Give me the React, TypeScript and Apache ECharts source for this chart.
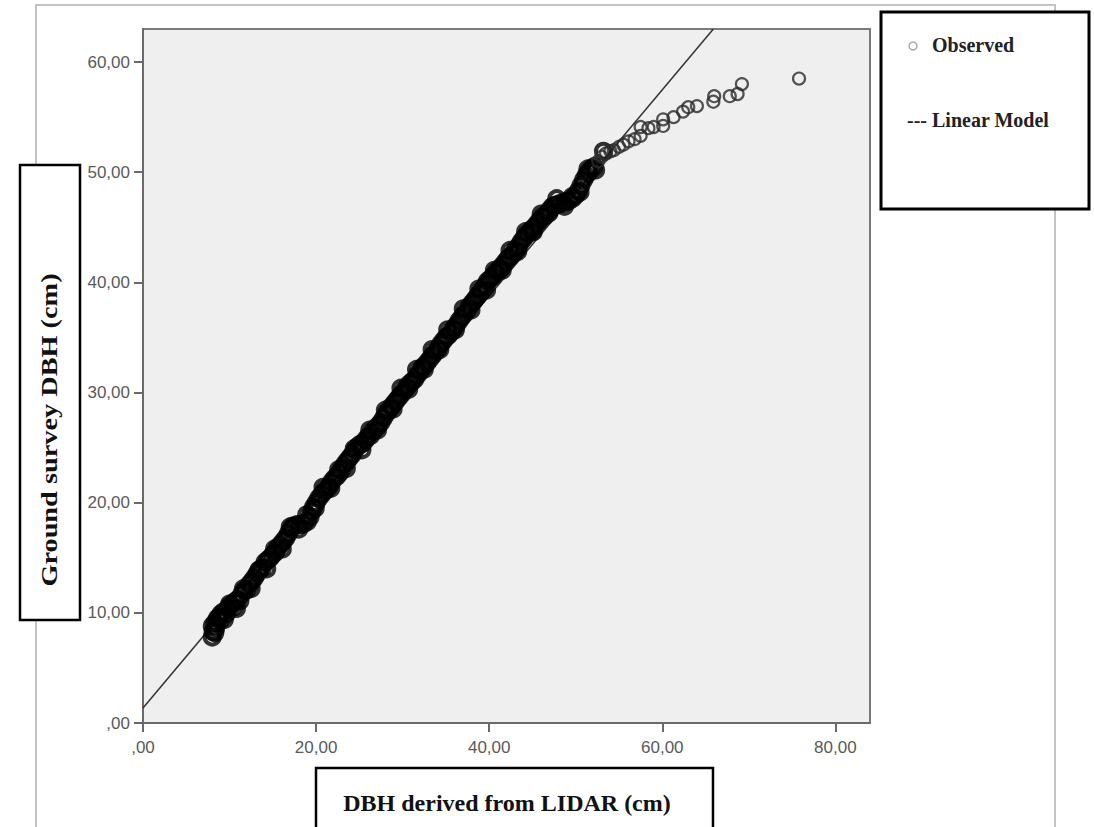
import React, { useEffect, useRef } from "react";
import * as echarts from "echarts";

// Observed points in the dense part of the curve
const denseX = [
  8.0, 8.1, 8.0, 8.3, 8.4, 8.6, 8.9, 9.0, 9.3, 9.6, 9.8, 10.1, 10.4, 10.6, 10.9, 11.2, 11.4, 11.7, 12.0, 12.3,
  12.6, 12.9, 13.2, 13.5, 13.8, 14.1, 14.4, 14.7, 15.0, 15.3, 15.6, 15.9, 16.2, 16.5, 16.8, 17.1, 17.4, 17.8, 18.2, 18.6,
  19.0, 19.3, 19.5, 19.7, 20.0, 20.3, 20.6, 20.9, 21.2, 21.5, 21.8, 22.1, 22.4, 22.7, 23.0, 23.3, 23.6, 23.9, 24.2, 24.5,
  24.8, 25.1, 25.4, 25.7, 26.0, 26.3, 26.6, 26.9, 27.2, 27.5, 27.8, 28.1, 28.4, 28.7, 29.0, 29.3, 29.6, 29.9, 30.2, 30.5,
  30.8, 31.1, 31.4, 31.7, 32.0, 32.3, 32.6, 32.9, 33.2, 33.5, 33.8, 34.1, 34.4, 34.7, 35.0, 35.3, 35.6, 35.9, 36.2, 36.5,
  36.8, 37.1, 37.4, 37.7, 38.0, 38.3, 38.6, 38.9, 39.2, 39.5, 39.8, 40.1, 40.4, 40.7, 41.0, 41.3, 41.6, 41.9, 42.2, 42.5,
  42.8, 43.1, 43.4, 43.7, 44.0, 44.3, 44.6, 44.9, 45.2, 45.5, 45.8, 46.1, 46.4, 46.7, 47.0, 47.3, 47.6, 48.0, 48.4, 48.8,
  49.2, 49.6, 50.0, 50.3, 50.6, 50.9, 51.2, 51.5, 51.8, 52.1,
  8.3, 8.8, 9.4, 10.0, 10.8, 11.6, 12.5, 13.4, 14.3, 15.2, 16.1, 17.0, 18.0, 18.9, 19.9, 20.8, 21.7, 22.6, 23.5, 24.4,
  25.3, 26.2, 27.1, 28.0, 28.9, 29.8, 30.7, 31.6, 32.5, 33.4, 34.3, 35.2, 36.1, 37.0, 37.9, 38.8, 39.7, 40.6, 41.5, 42.4,
  43.3, 44.2, 45.1, 46.0, 46.9, 47.8, 48.7, 49.6, 50.5, 51.4, 52.3, 53.2,
];

const denseY = [
  7.8, 8.3, 8.8, 9.1, 8.6, 9.5, 9.3, 9.9, 10.1, 9.9, 10.4, 10.7, 10.5, 11.0, 11.2, 11.1, 11.7, 12.0, 12.1, 12.6,
  12.9, 13.2, 13.6, 13.9, 14.1, 14.6, 14.8, 15.0, 15.3, 15.5, 15.9, 16.2, 16.5, 16.8, 17.2, 17.6, 17.9, 18.0, 18.0, 18.1,
  18.3, 18.7, 19.2, 19.6, 20.0, 20.4, 20.7, 21.0, 21.2, 21.5, 21.9, 22.2, 22.4, 22.7, 23.1, 23.5, 23.8, 24.1, 24.4, 24.8,
  25.1, 25.3, 25.4, 25.7, 26.0, 26.1, 26.5, 26.8, 27.0, 27.3, 27.7, 28.1, 28.4, 28.7, 29.0, 29.3, 29.6, 29.9, 30.2, 30.5,
  30.8, 31.0, 31.2, 31.6, 31.9, 32.3, 32.5, 32.8, 33.1, 33.4, 33.7, 34.0, 34.4, 34.7, 35.0, 35.2, 35.5, 35.8, 36.1, 36.5,
  36.8, 37.1, 37.4, 37.8, 38.1, 38.4, 38.7, 39.0, 39.3, 39.7, 40.1, 40.3, 40.5, 40.8, 41.1, 41.3, 41.6, 41.9, 42.2, 42.4,
  42.7, 43.0, 43.3, 43.7, 44.0, 44.3, 44.5, 44.8, 45.0, 45.3, 45.6, 45.9, 46.0, 46.3, 46.6, 46.9, 47.0, 47.1, 47.2, 47.3,
  47.4, 47.6, 47.9, 48.3, 48.8, 49.3, 49.7, 50.0, 50.3, 50.5,
  8.2, 9.6, 9.4, 10.8, 10.4, 12.2, 12.2, 13.9, 14.0, 15.8, 15.8, 17.8, 17.6, 18.9, 19.5, 21.4, 21.3, 23.0, 23.1, 24.9,
  24.8, 26.6, 26.6, 28.4, 28.5, 30.4, 30.3, 32.1, 32.1, 33.9, 33.9, 35.7, 35.7, 37.6, 37.5, 39.4, 39.3, 41.1, 41.1, 42.9,
  42.8, 44.6, 44.6, 46.2, 46.3, 47.6, 46.9, 47.8, 48.2, 50.3, 50.2, 51.9,
];

// Observed points in the sparser upper tail
const tailX = [
  52.6, 53.0, 53.5, 54.0, 54.4, 55.0, 55.5, 56.1, 56.8, 57.5, 57.5, 58.4, 59.0, 60.1, 60.1, 61.3, 62.4, 63.0, 64.0, 65.9,
  66.0, 67.8, 68.7, 69.2, 75.8,
];
const tailY = [
  51.0, 51.4, 51.7, 51.9, 52.0, 52.3, 52.5, 52.8, 53.0, 53.3, 54.1, 54.0, 54.1, 54.2, 54.8, 55.0, 55.5, 55.9, 56.0, 56.4,
  56.9, 56.9, 57.1, 58.0, 58.5,
];

const modelX = [0, 65.9];
const modelY = [1.36, 63];

const xTicks = [0, 20, 40, 60, 80];
const yTicks = [0, 10, 20, 30, 40, 50, 60];

const xTitle = "DBH derived from LIDAR (cm)";
const yTitle = "Ground survey DBH (cm)";
const legendObserved = "Observed";
const legendModel = "--- Linear Model";

const fmt = (v: number) => (v === 0 ? ",00" : v.toFixed(2).replace(".", ","));

export default function App() {
  const ref = useRef<HTMLDivElement>(null);
  useEffect(() => {
    if (!ref.current) return;
    const chart = echarts.init(ref.current, null, { renderer: "svg" });
    const serif = "'Liberation Serif', 'Times New Roman', serif";
    const labelStyle = {
      color: "#5a5a5a",
      fontSize: 17,
      fontFamily: "'Liberation Sans', Arial, sans-serif",
    };
    chart.setOption({
      animation: false,
      backgroundColor: "#ffffff",
      grid: {
        left: 143,
        top: 29,
        width: 727,
        height: 694,
        show: true,
        backgroundColor: "#efefef",
        borderColor: "#7a7a7a",
        borderWidth: 2,
      },
      xAxis: {
        type: "value",
        min: 0,
        max: 84,
        interval: 20,
        splitLine: { show: false },
        axisLine: { show: true, lineStyle: { color: "#6a6a6a", width: 2 } },
        axisTick: { show: true, length: 9, customValues: xTicks, lineStyle: { color: "#6a6a6a", width: 2 } },
        axisLabel: { ...labelStyle, margin: 16, customValues: xTicks, formatter: fmt },
      },
      yAxis: {
        type: "value",
        min: 0,
        max: 63,
        interval: 10,
        splitLine: { show: false },
        axisLine: { show: true, lineStyle: { color: "#6a6a6a", width: 2 } },
        axisTick: { show: true, length: 9, customValues: yTicks, lineStyle: { color: "#6a6a6a", width: 2 } },
        axisLabel: { ...labelStyle, margin: 13, customValues: yTicks, formatter: fmt },
      },
      series: [
        {
          type: "line",
          name: "Linear Model",
          data: modelX.map((x, i) => [x, modelY[i]]),
          showSymbol: false,
          lineStyle: { color: "#333", width: 1.5 },
          z: 1,
          clip: true,
        },
        {
          type: "scatter",
          name: "Observed",
          data: denseX.map((x, i) => [x, denseY[i]]),
          symbol: "circle",
          symbolSize: 15,
          itemStyle: { color: "rgba(0,0,0,0)", borderColor: "#000", borderWidth: 4 },
          z: 2,
        },
        {
          type: "scatter",
          name: "Observed",
          data: tailX.map((x, i) => [x, tailY[i]]),
          symbol: "circle",
          symbolSize: 12,
          itemStyle: { color: "rgba(0,0,0,0)", borderColor: "#2a2a2a", borderWidth: 2.2 },
          z: 2,
        },
      ],
      graphic: [
        {
          type: "rect",
          z: -10,
          shape: { x: 36, y: 5, width: 1019, height: 900 },
          style: { fill: "none", stroke: "#c4c4c4", lineWidth: 2 },
        },
        {
          type: "rect",
          z: 10,
          shape: { x: 20, y: 165, width: 60, height: 455 },
          style: { fill: "#fff", stroke: "#000", lineWidth: 2.5 },
        },
        {
          type: "text",
          z: 11,
          x: 49,
          y: 430,
          rotation: Math.PI / 2,
          scaleX: 1.18,
          style: {
            text: yTitle,
            font: `bold 24px ${serif}`,
            fill: "#111",
            textAlign: "center",
            textVerticalAlign: "middle",
          },
        },
        {
          type: "rect",
          z: 10,
          shape: { x: 316, y: 768, width: 397, height: 90 },
          style: { fill: "#fff", stroke: "#000", lineWidth: 2.5 },
        },
        {
          type: "text",
          z: 11,
          x: 507,
          y: 803,
          style: {
            text: xTitle,
            font: `bold 24px ${serif}`,
            fill: "#111",
            textAlign: "center",
            textVerticalAlign: "middle",
          },
        },
        {
          type: "rect",
          z: 10,
          shape: { x: 881, y: 12, width: 208, height: 197 },
          style: { fill: "#fff", stroke: "#000", lineWidth: 3 },
        },
        {
          type: "circle",
          z: 11,
          shape: { cx: 913, cy: 46, r: 4 },
          style: { fill: "none", stroke: "#aaa", lineWidth: 1.5 },
        },
        {
          type: "text",
          z: 11,
          x: 932,
          y: 45,
          style: {
            text: legendObserved,
            font: `bold 20px ${serif}`,
            fill: "#222",
            textAlign: "left",
            textVerticalAlign: "middle",
          },
        },
        {
          type: "text",
          z: 11,
          x: 907,
          y: 120,
          style: {
            text: legendModel,
            font: `bold 20px ${serif}`,
            fill: "#222",
            textAlign: "left",
            textVerticalAlign: "middle",
          },
        },
      ],
    });
    return () => chart.dispose();
  }, []);
  return (
    <div
      ref={ref}
      style={{ position: "absolute", left: 0, top: 0, width: 1094, height: 827, background: "#fff" }}
    />
  );
}
